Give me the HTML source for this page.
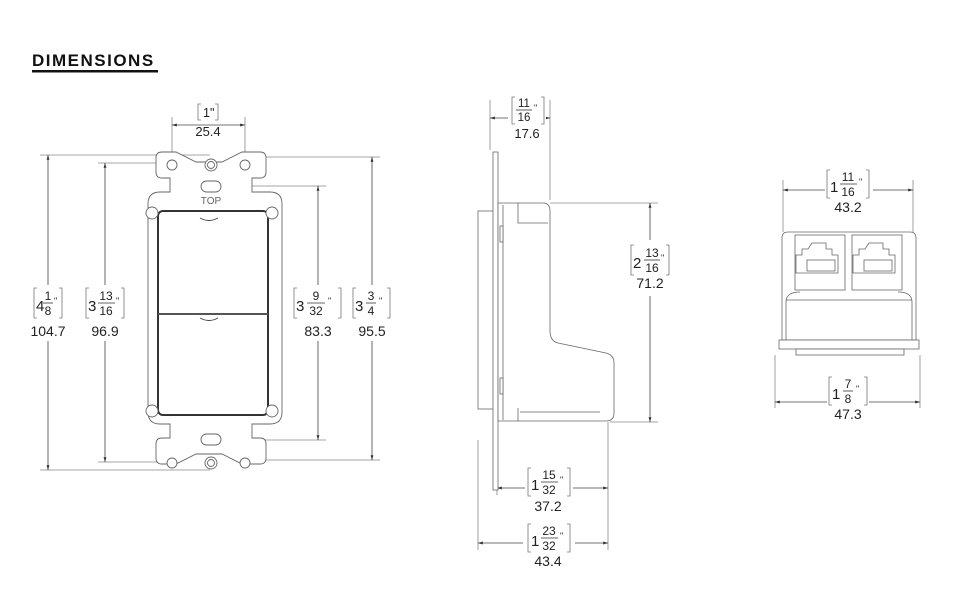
<!DOCTYPE html>
<html><head><meta charset="utf-8"><style>
html,body{margin:0;padding:0;background:#fff}
svg{display:block}
text{font-family:"Liberation Sans",sans-serif;fill:#222}
</style></head><body>
<svg width="960" height="600" viewBox="0 0 960 600" xmlns="http://www.w3.org/2000/svg">
<defs>
<marker id="a" viewBox="0 0 10 10" refX="10" refY="5" markerWidth="6" markerHeight="6" orient="auto-start-reverse"><path d="M0,2 L10,5 L0,8 z" fill="#333"/></marker>
</defs>
<text x="32" y="66" font-size="17" font-weight="bold" letter-spacing="1.5" style="fill:#111">DIMENSIONS</text>
<rect x="32" y="70" width="126" height="2.5" fill="#111"/>

<g stroke="#888" stroke-width="0.8" fill="none">
<!-- front view extension lines -->
<line x1="172" y1="117" x2="172" y2="160"/><line x1="245" y1="117" x2="245" y2="160"/>
<line x1="40" y1="155" x2="210" y2="155"/><line x1="40" y1="470" x2="210" y2="470"/>
<line x1="98" y1="163" x2="172" y2="163"/><line x1="98" y1="462" x2="172" y2="462"/>
<line x1="210" y1="186" x2="326" y2="186"/><line x1="210" y1="440" x2="326" y2="440"/>
<line x1="245" y1="157" x2="380" y2="157"/><line x1="245" y1="460" x2="380" y2="460"/>
<!-- side view -->
<line x1="490" y1="100" x2="490" y2="150"/><line x1="550" y1="100" x2="550" y2="200"/>
<line x1="550" y1="203" x2="658" y2="203"/><line x1="610" y1="422" x2="658" y2="422"/>
<line x1="497" y1="440" x2="497" y2="495"/><line x1="608" y1="422" x2="608" y2="550"/>
<line x1="478" y1="440" x2="478" y2="550"/>
<!-- right view -->
<line x1="783" y1="180" x2="783" y2="232"/><line x1="913" y1="180" x2="913" y2="232"/>
<line x1="775" y1="355" x2="775" y2="408"/><line x1="920" y1="355" x2="920" y2="408"/>
</g>
<g stroke="#444" stroke-width="0.8" fill="none" marker-start="url(#a)" marker-end="url(#a)">
<line x1="172" y1="125" x2="245" y2="125"/>
<line x1="48" y1="155" x2="48" y2="470"/>
<line x1="105" y1="163" x2="105" y2="462"/>
<line x1="318" y1="186" x2="318" y2="440"/>
<line x1="372" y1="157" x2="372" y2="460"/>
<line x1="490" y1="118" x2="550" y2="118"/>
<line x1="650" y1="203" x2="650" y2="422"/>
<line x1="497" y1="488" x2="608" y2="488"/>
<line x1="478" y1="543" x2="608" y2="543"/>
<line x1="783" y1="190" x2="913" y2="190"/>
<line x1="775" y1="402" x2="920" y2="402"/>
</g>
<!-- white backgrounds behind labels -->
<g fill="#fff">
<rect x="30" y="285" width="36" height="56"/><rect x="84" y="285" width="42" height="56"/>
<rect x="296" y="285" width="44" height="56"/><rect x="352" y="285" width="40" height="56"/>
<rect x="628" y="240" width="44" height="56"/>
<rect x="525" y="465" width="48" height="50"/><rect x="523" y="520" width="52" height="50"/>
<rect x="825" y="168" width="48" height="46"/><rect x="827" y="375" width="42" height="48"/>
<rect x="190" y="102" width="36" height="18"/><rect x="508" y="96" width="38" height="30"/>
</g>

<!-- labels -->
<g stroke="#777" stroke-width="0.8" fill="none">
<!-- 1" -->
<path d="M201,104 h-3 v16 h3 M215,104 h3 v16 h-3"/>
<!-- 11/16 -->
<path d="M515,97 h-3 v27 h3 M541,97 h3 v27 h-3"/>
<line x1="516" y1="110" x2="532" y2="110" stroke="#333"/>
<!-- 4 1/8 -->
<path d="M37,288 h-3 v30 h3 M59,288 h3 v30 h-3"/><line x1="43" y1="303" x2="53" y2="303" stroke="#333"/>
<!-- 3 13/16 -->
<path d="M89,288 h-3 v30 h3 M121,288 h3 v30 h-3"/><line x1="98" y1="303" x2="115" y2="303" stroke="#333"/>
<!-- 3 9/32 -->
<path d="M297,288 h-3 v30 h3 M338,288 h3 v30 h-3"/><line x1="307" y1="303" x2="325" y2="303" stroke="#333"/>
<!-- 3 3/4 -->
<path d="M356,288 h-3 v30 h3 M387,288 h3 v30 h-3"/><line x1="366" y1="303" x2="376" y2="303" stroke="#333"/>
<!-- 2 13/16 -->
<path d="M634,245 h-3 v30 h3 M666,245 h3 v30 h-3"/><line x1="644" y1="260" x2="660" y2="260" stroke="#333"/>
<!-- 1 15/32 -->
<path d="M531,468 h-3 v28 h3 M567,468 h3 v28 h-3"/><line x1="541" y1="482" x2="558" y2="482" stroke="#333"/>
<!-- 1 23/32 -->
<path d="M531,524 h-3 v28 h3 M567,524 h3 v28 h-3"/><line x1="541" y1="538" x2="558" y2="538" stroke="#333"/>
<!-- 1 11/16 -->
<path d="M830,170 h-3 v28 h3 M866,170 h3 v28 h-3"/><line x1="840" y1="184" x2="857" y2="184" stroke="#333"/>
<!-- 1 7/8 -->
<path d="M832,377 h-3 v28 h3 M864,377 h3 v28 h-3"/><line x1="843" y1="391" x2="853" y2="391" stroke="#333"/>
</g>
<g font-size="12.5">
<text x="203" y="117">1"</text><text x="208" y="136" text-anchor="middle" font-size="13">25.4</text>
<text x="524" y="107" text-anchor="middle" font-size="11.5">11</text><text x="524" y="121" text-anchor="middle" font-size="11.5">16</text><text x="534" y="111" font-size="9">"</text><text x="527" y="138" text-anchor="middle" font-size="13">17.6</text>

<text x="36" y="311" font-size="15">4</text><text x="48" y="300" text-anchor="middle" font-size="12">1</text><text x="48" y="315" text-anchor="middle" font-size="12">8</text><text x="54" y="304" font-size="9">"</text><text x="48" y="336" text-anchor="middle" font-size="14">104.7</text>
<text x="88" y="311" font-size="15">3</text><text x="106" y="300" text-anchor="middle" font-size="12">13</text><text x="106" y="315" text-anchor="middle" font-size="12">16</text><text x="116" y="304" font-size="9">"</text><text x="105" y="336" text-anchor="middle" font-size="14">96.9</text>
<text x="296" y="311" font-size="15">3</text><text x="316" y="300" text-anchor="middle" font-size="12">9</text><text x="316" y="315" text-anchor="middle" font-size="12">32</text><text x="328" y="304" font-size="9">"</text><text x="318" y="336" text-anchor="middle" font-size="14">83.3</text>
<text x="355" y="311" font-size="15">3</text><text x="371" y="300" text-anchor="middle" font-size="12">3</text><text x="371" y="315" text-anchor="middle" font-size="12">4</text><text x="379" y="304" font-size="9">"</text><text x="372" y="336" text-anchor="middle" font-size="14">95.5</text>
<text x="633" y="268" font-size="15">2</text><text x="652" y="257" text-anchor="middle" font-size="12">13</text><text x="652" y="272" text-anchor="middle" font-size="12">16</text><text x="661" y="261" font-size="9">"</text><text x="650" y="288" text-anchor="middle" font-size="14">71.2</text>
<text x="531" y="490" font-size="15">1</text><text x="549" y="479" text-anchor="middle" font-size="12">15</text><text x="549" y="494" text-anchor="middle" font-size="12">32</text><text x="560" y="483" font-size="9">"</text><text x="548" y="511" text-anchor="middle" font-size="14">37.2</text>
<text x="531" y="546" font-size="15">1</text><text x="549" y="535" text-anchor="middle" font-size="12">23</text><text x="549" y="550" text-anchor="middle" font-size="12">32</text><text x="560" y="539" font-size="9">"</text><text x="548" y="566" text-anchor="middle" font-size="14">43.4</text>
<text x="830" y="192" font-size="15">1</text><text x="848" y="181" text-anchor="middle" font-size="12">11</text><text x="848" y="196" text-anchor="middle" font-size="12">16</text><text x="859" y="185" font-size="9">"</text><text x="848" y="212" text-anchor="middle" font-size="14">43.2</text>
<text x="832" y="399" font-size="15">1</text><text x="848" y="388" text-anchor="middle" font-size="12">7</text><text x="848" y="403" text-anchor="middle" font-size="12">8</text><text x="856" y="392" font-size="9">"</text><text x="848" y="419" text-anchor="middle" font-size="14">47.3</text>
</g>

<!-- FRONT VIEW -->
<g stroke="#666" stroke-width="0.9" fill="#fff">
<path d="M162,152 h14 l20,10 h26 l20,-10 h18 q6,0 6,6 v14 q0,6 -6,6 h-8 v14 h18 q12,0 12,12 v208 q0,12 -12,12 h-18 v14 h8 q6,0 6,6 v14 q0,6 -6,6 h-18 l-20,-10 h-26 l-20,10 h-14 q-6,0 -6,-6 v-14 q0,-6 6,-6 h8 v-14 h-10 q-12,0 -12,-12 v-208 q0,-12 12,-12 h10 v-14 h-8 q-6,0 -6,-6 v-14 q0,-6 6,-6 z"/>
<rect x="158" y="211" width="110" height="204" rx="5" stroke="#333" stroke-width="2"/>
<line x1="158" y1="314" x2="268" y2="314" stroke="#555" stroke-width="2"/>
<path d="M200,218 q9,5 18,0 M200,318 q9,5 18,0" fill="none" stroke="#444"/>
<circle cx="172" cy="165" r="5"/><circle cx="245" cy="165" r="5"/>
<circle cx="211" cy="165" r="6"/><circle cx="211" cy="165" r="3.5"/>
<rect x="201" y="181" width="20" height="11" rx="5.5"/>
<rect x="201" y="434" width="20" height="11" rx="5.5"/>
<circle cx="172" cy="463" r="5"/><circle cx="245" cy="463" r="5"/>
<circle cx="211" cy="463" r="6"/><circle cx="211" cy="463" r="3.5"/>
<circle cx="152" cy="213" r="6"/><circle cx="272" cy="213" r="6"/>
<circle cx="152" cy="411" r="6"/><circle cx="272" cy="411" r="6"/>
</g>
<text x="211" y="204" text-anchor="middle" font-size="10" style="fill:#666">TOP</text>

<!-- SIDE VIEW -->
<g stroke="#666" stroke-width="0.8" fill="#fff">
<rect x="478" y="211" width="16" height="198"/>
<rect x="493" y="152" width="5" height="338"/>
<path d="M498,203 h45 q7,0 7,8 v120 q0,10 8,12 l48,10 q8,2 8,10 v50 q0,8 -8,8 h-108 z"/>
<path d="M518,203 v20 h30 M518,408 v13 M520,412 h80"/>
<line x1="503" y1="205" x2="503" y2="420"/>
<rect x="500" y="226" width="3" height="16"/><rect x="500" y="378" width="3" height="16"/>
</g>

<!-- RIGHT VIEW -->
<g stroke="#666" stroke-width="0.8" fill="#fff">
<path d="M788,232 h122 q6,0 6,6 v102 h-134 v-102 q0,-6 6,-6 z"/>
<rect x="795" y="235" width="50" height="55"/><rect x="852" y="235" width="50" height="55"/>
<path d="M800,292 q-14,0 -14,10 v40 M898,292 q14,0 14,10 v40 M786,300 h126"/>
<rect x="779" y="340" width="140" height="9"/>
<rect x="796" y="349" width="108" height="6"/>
<path d="M812,243 h14 v6 h6 v6 h6 v18 h-42 v-18 h6 v-6 h6 z"/>
<path d="M869,243 h14 v6 h6 v6 h6 v18 h-42 v-18 h6 v-6 h6 z"/>
<rect x="807" y="260" width="28" height="11"/><rect x="864" y="260" width="28" height="11"/>
</g>
</svg>
</body></html>
